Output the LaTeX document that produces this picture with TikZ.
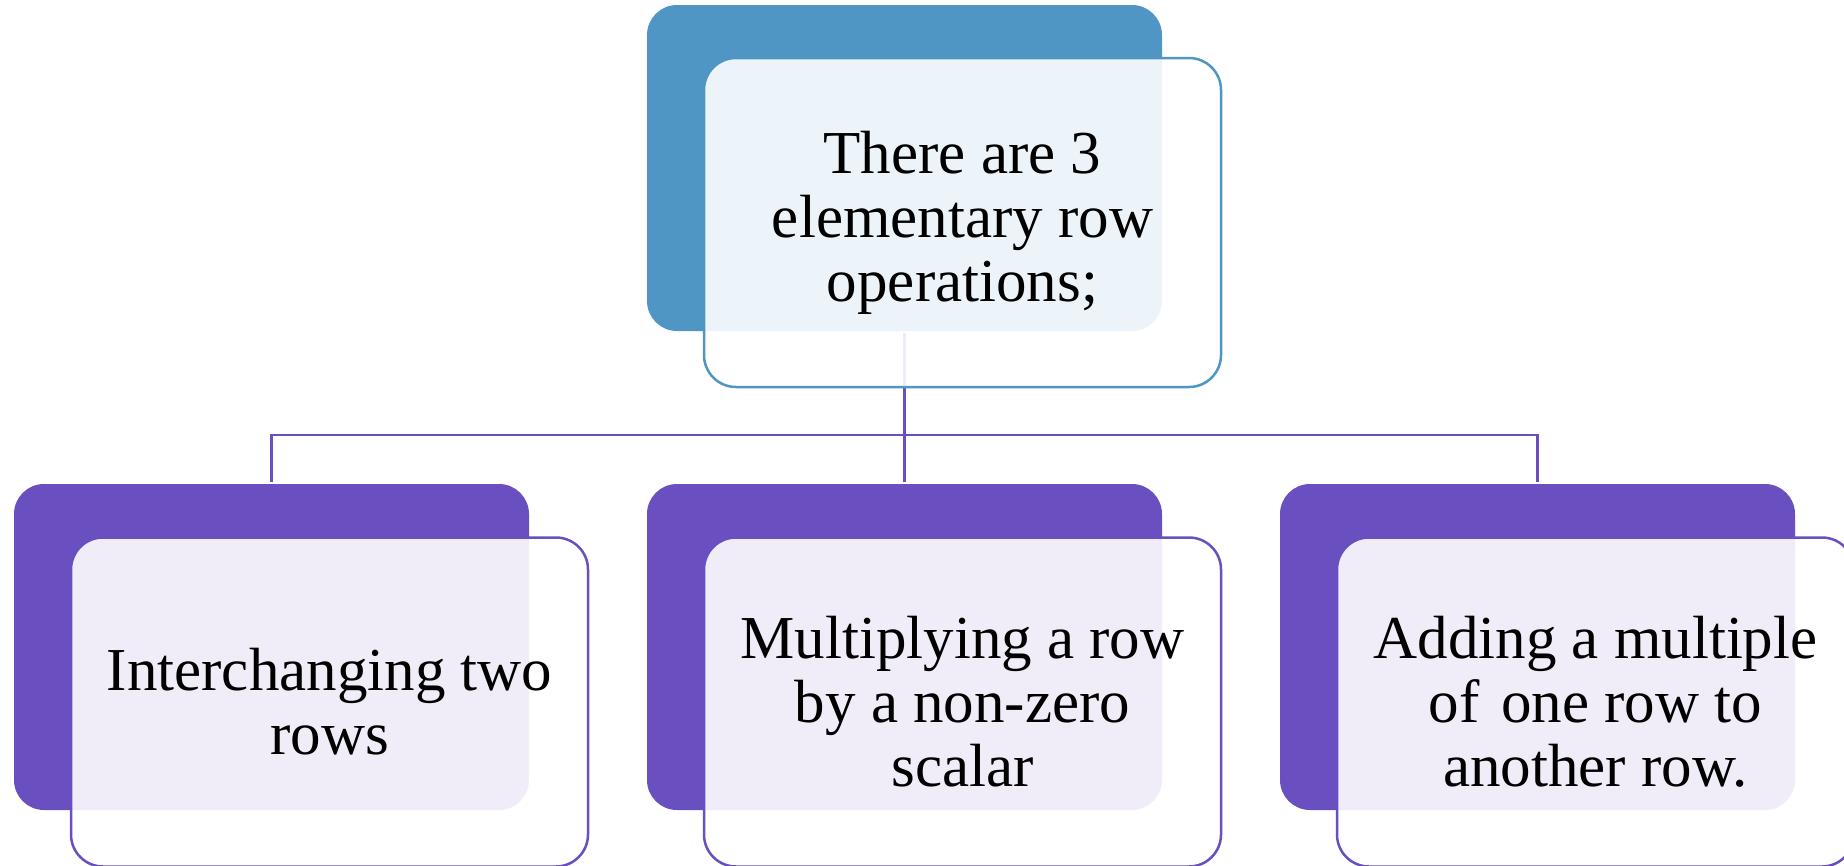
\documentclass[tikz,border=0pt]{standalone}
\usepackage{fontspec}
\setmainfont{Liberation Serif}
\usetikzlibrary{backgrounds}
\definecolor{topblue}{RGB}{79,150,196}
\definecolor{opurple}{RGB}{106,79,192}
\begin{document}
\begin{tikzpicture}[x=1pt,y=-1pt,
  backbox/.style={fill=#1, draw=none, rounded corners=30pt, inner sep=0pt,
    minimum width=515pt, minimum height=326pt},
  frontbox/.style={fill=white, fill opacity=0.9, text opacity=1, draw=#1, draw opacity=1,
    line width=2.5pt, rounded corners=32pt, inner sep=0pt,
    minimum width=517pt, minimum height=329pt,
    font=\fontsize{61}{64}\selectfont, align=center, text=black},
  link/.style={draw=opurple, line width=2.5pt}]
\useasboundingbox (0,0) rectangle (1844,865);
% back boxes
\node[backbox=topblue] (topback) at (904.5,168) {};
\node[backbox=opurple] (c1back) at (271.5,647) {};
\node[backbox=opurple] (c2back) at (904.5,647) {};
\node[backbox=opurple] (c3back) at (1537.5,647) {};
% front boxes
\node[frontbox=topblue] (top) at (962.5,222.5) {There are 3\\elementary row\\operations;};
\node[frontbox=opurple] (c1) at (329.5,702) {Interchanging two\\rows};
\node[frontbox=opurple] (c2) at (962.5,702) {Multiplying a row\\by a non-zero\\scalar};
\node[frontbox=opurple] (c3) at (1595.5,702) {Adding a multiple\\of\hspace{0.1em} one row to\\another row.};
% connectors
\begin{pgfonlayer}{background}
\path (topback.south) ++(0,104) coordinate (bus);
\draw[link] ([yshift=-2pt]topback.south) -- (bus);
\draw[link] (bus) -| ([yshift=2pt]c1back.north);
\draw[link] (bus) -- ([yshift=2pt]c2back.north);
\draw[link] (bus) -| ([yshift=2pt]c3back.north);
\end{pgfonlayer}
\end{tikzpicture}
\end{document}
